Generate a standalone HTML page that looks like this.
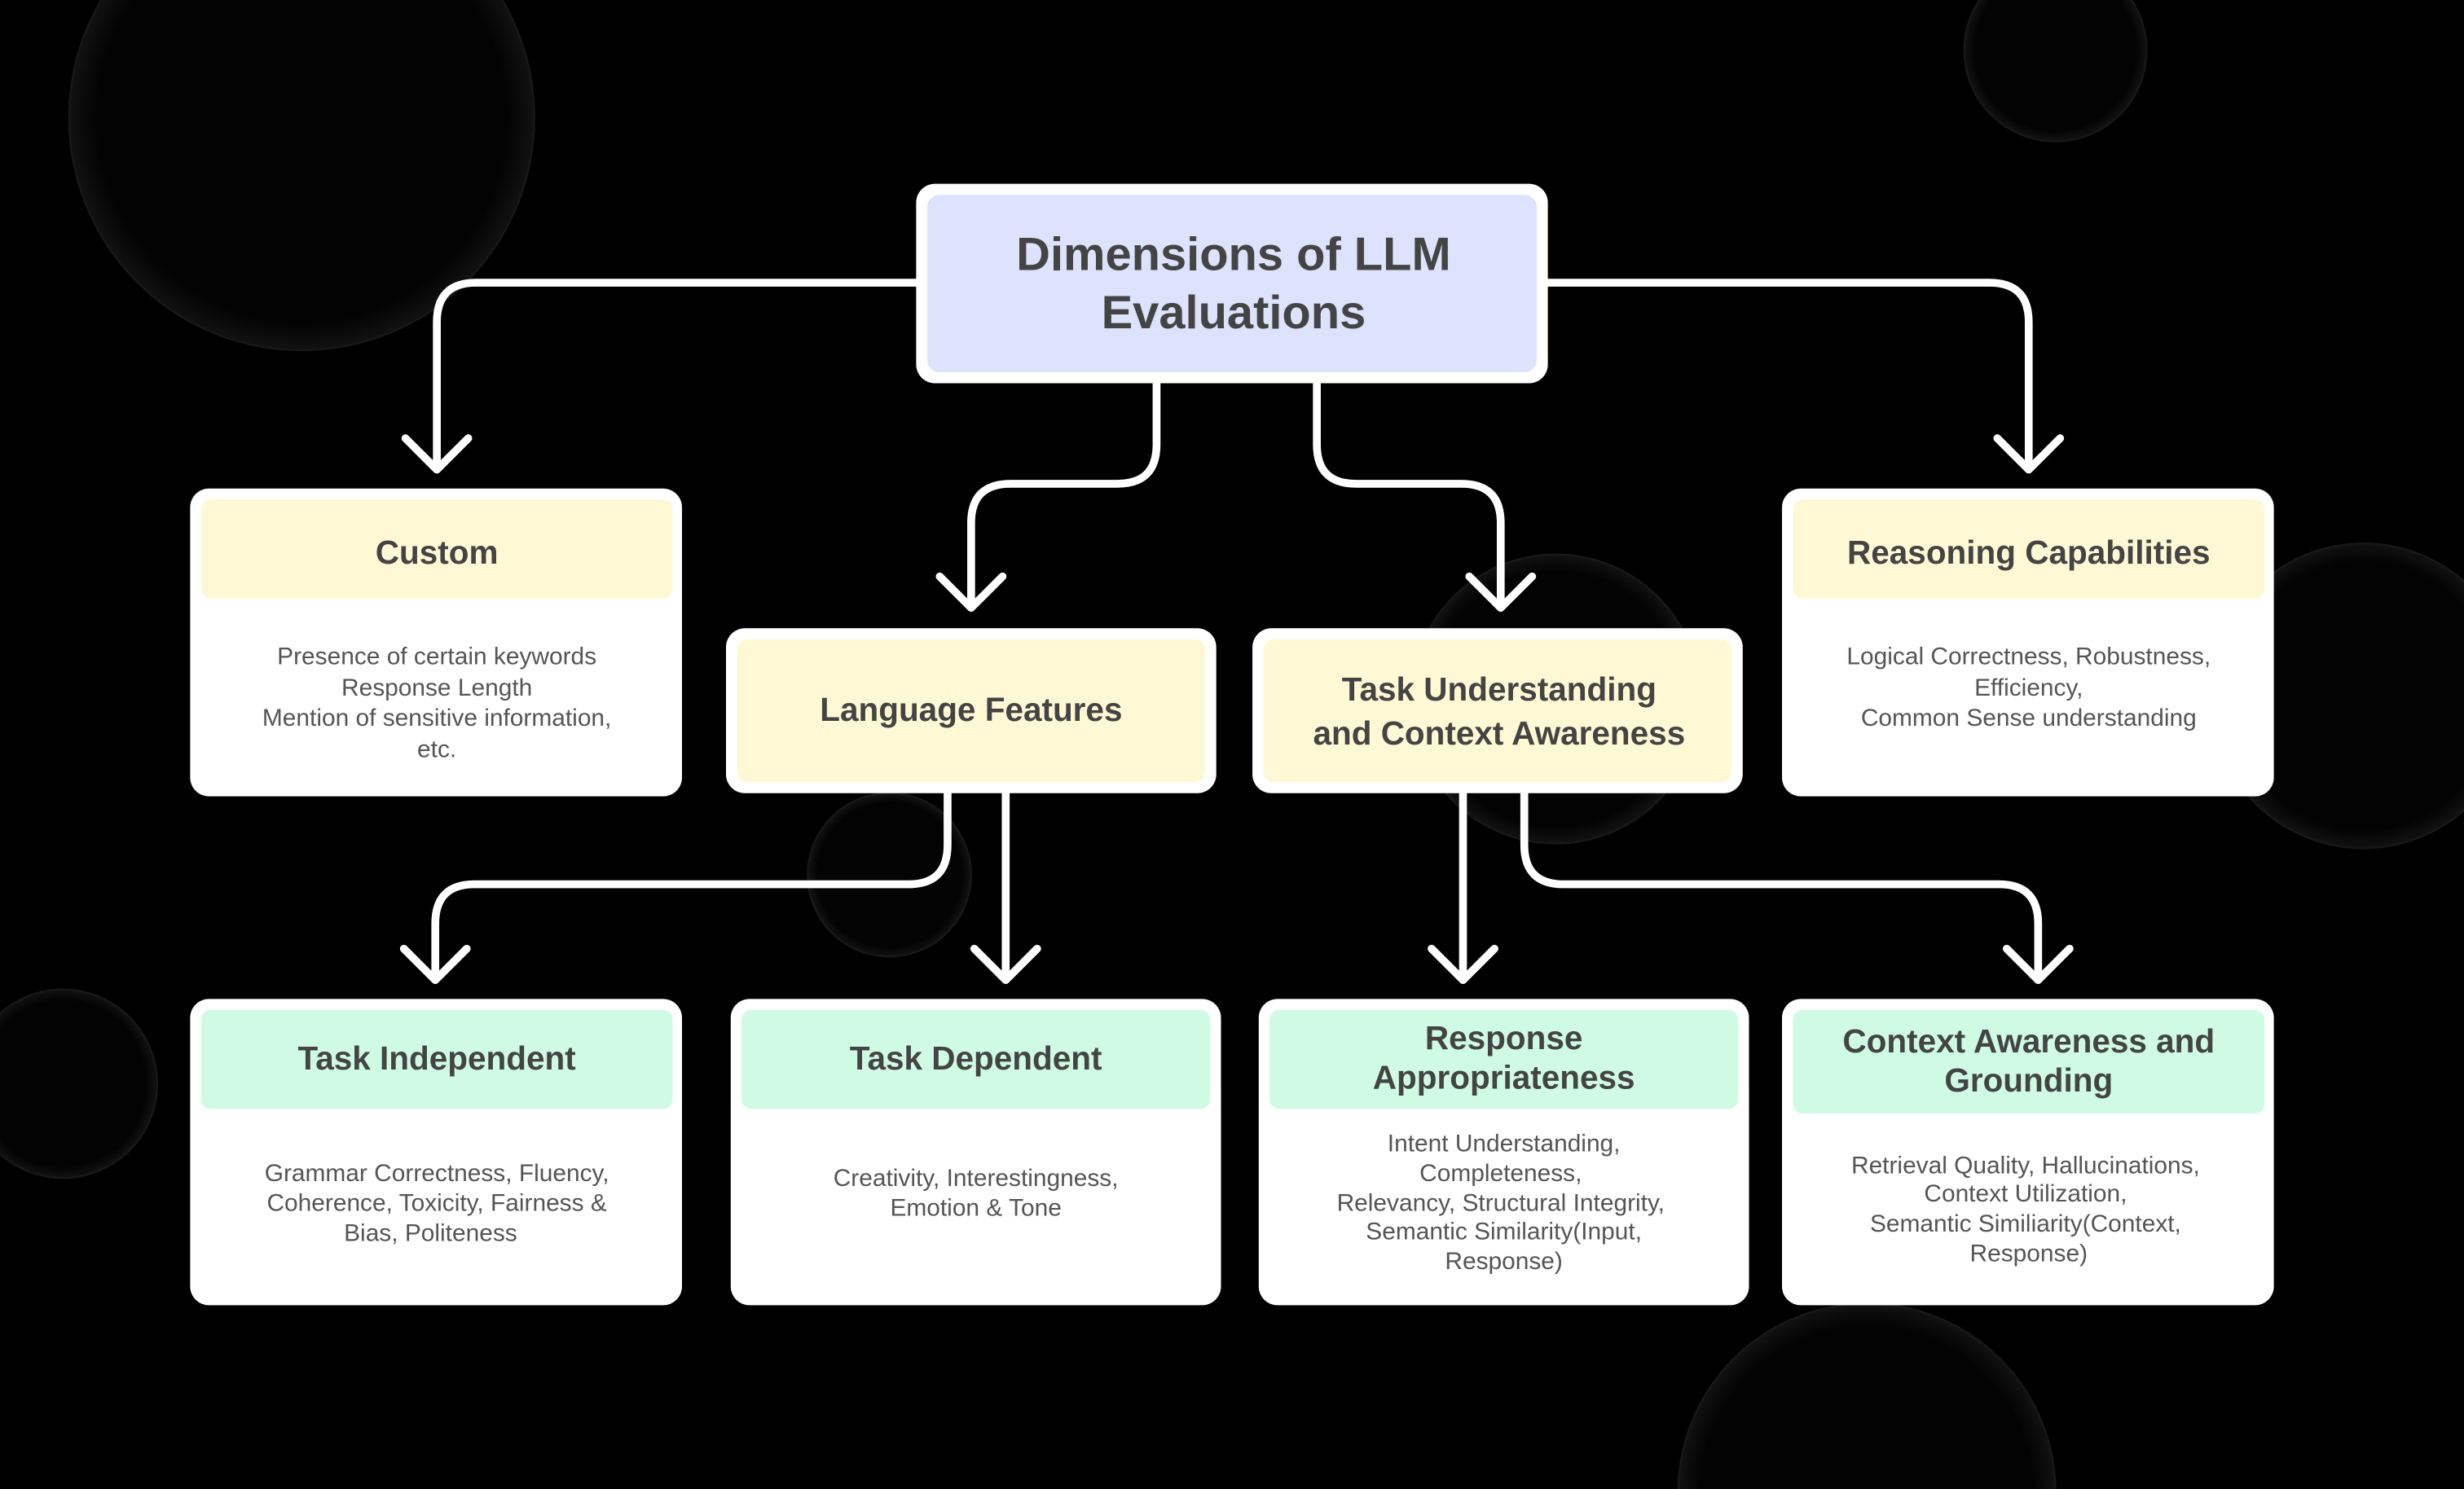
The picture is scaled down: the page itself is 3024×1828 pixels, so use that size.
<!DOCTYPE html>
<html><head><style>html,body{margin:0;padding:0;background:#000;width:3024px;height:1828px;overflow:hidden}svg{display:block}</style></head>
<body>
<svg width="3024" height="1828" viewBox="0 0 1568 948" preserveAspectRatio="none" xmlns="http://www.w3.org/2000/svg" font-family="Liberation Sans, sans-serif">
<defs>
<radialGradient id="g" cx="50%" cy="50%" r="50%"><stop offset="88%" stop-color="#030303"/><stop offset="100%" stop-color="#121212"/></radialGradient>
</defs>
<rect width="1568" height="948" fill="#000"/>
<g fill="url(#g)" stroke="#181818" stroke-width="1.2">
<circle cx="192" cy="75" r="148"/>
<circle cx="1308" cy="32" r="58"/>
<circle cx="1504" cy="443" r="97"/>
<circle cx="40" cy="690" r="60"/>
<circle cx="566" cy="557" r="52"/>
<circle cx="990" cy="445" r="92"/>
<circle cx="1188" cy="950" r="120"/>
</g>
<g fill="none" stroke="#fff" stroke-width="5" stroke-linecap="round" stroke-linejoin="round">
<path d="M583 180 H303 Q278 180 278 205 V298"/>
<path d="M985 180 H1266 Q1291 180 1291 205 V298"/>
<path d="M736 244 V283 Q736 308 711 308 H643 Q618 308 618 333 V387"/>
<path d="M838 244 V283 Q838 308 863 308 H930 Q955 308 955 333 V387"/>
<path d="M603 505 V538 Q603 563 578 563 H302 Q277 563 277 588 V624"/>
<path d="M640 505 V624"/>
<path d="M931 505 V624"/>
<path d="M970 505 V538 Q970 563 995 563 H1272 Q1297 563 1297 588 V624"/>
<path d="M258 279 L278 299 L298 279"/>
<path d="M1271 279 L1291 299 L1311 279"/>
<path d="M598 367 L618 387 L638 367"/>
<path d="M935 367 L955 387 L975 367"/>
<path d="M257 604 L277 624 L297 604"/>
<path d="M620 604 L640 624 L660 604"/>
<path d="M911 604 L931 624 L951 604"/>
<path d="M1277 604 L1297 624 L1317 604"/>
</g>
<rect x="583" y="117" width="402" height="127" rx="12" fill="#fff"/>
<rect x="590" y="124" width="388" height="113" rx="8" fill="#dde2fd"/>
<g fill="#444" font-weight="bold" text-anchor="middle">
<text x="785" y="172" font-size="30">Dimensions of LLM</text>
<text x="785" y="209" font-size="30">Evaluations</text>
</g>
<rect x="121" y="311" width="313" height="196" rx="12" fill="#fff"/>
<rect x="128" y="318" width="300" height="63" rx="6" fill="#fef9d4"/>
<rect x="1134" y="311" width="313" height="196" rx="12" fill="#fff"/>
<rect x="1141" y="318" width="300" height="63" rx="6" fill="#fef9d4"/>
<rect x="462" y="400" width="312" height="105" rx="12" fill="#fff"/>
<rect x="469" y="407" width="298" height="91" rx="7" fill="#fef9d4"/>
<rect x="797" y="400" width="312" height="105" rx="12" fill="#fff"/>
<rect x="804" y="407" width="298" height="91" rx="7" fill="#fef9d4"/>
<rect x="121" y="636" width="313" height="195" rx="12" fill="#fff"/>
<rect x="128" y="643" width="300" height="63" rx="6" fill="#cffbe4"/>
<rect x="465" y="636" width="312" height="195" rx="12" fill="#fff"/>
<rect x="472" y="643" width="298" height="63" rx="6" fill="#cffbe4"/>
<rect x="801" y="636" width="312" height="195" rx="12" fill="#fff"/>
<rect x="808" y="643" width="298" height="63" rx="6" fill="#cffbe4"/>
<rect x="1134" y="636" width="313" height="195" rx="12" fill="#fff"/>
<rect x="1141" y="643" width="300" height="66" rx="6" fill="#cffbe4"/>
<g fill="#444" font-weight="bold" text-anchor="middle" font-size="21">
<text x="278" y="359">Custom</text>
<text x="1291" y="359">Reasoning Capabilities</text>
<text x="618" y="459">Language Features</text>
<text x="954" y="446">Task Understanding</text>
<text x="954" y="474">and Context Awareness</text>
<text x="278" y="681">Task Independent</text>
<text x="621" y="681">Task Dependent</text>
<text x="957" y="668">Response</text>
<text x="957" y="693">Appropriateness</text>
<text x="1291" y="670">Context Awareness and</text>
<text x="1291" y="695">Grounding</text>
</g>
<g fill="#555" text-anchor="middle" font-size="15.5">
<text x="278" y="423">Presence of certain keywords</text>
<text x="278" y="443">Response Length</text>
<text x="278" y="462">Mention of sensitive information,</text>
<text x="278" y="482">etc.</text>
<text x="1291" y="423">Logical Correctness, Robustness,</text>
<text x="1291" y="443">Efficiency,</text>
<text x="1291" y="462">Common Sense understanding</text>
<text x="278" y="752">Grammar Correctness, Fluency,</text>
<text x="278" y="771">Coherence, Toxicity, Fairness &amp;</text>
<text x="274" y="790">Bias, Politeness</text>
<text x="621" y="755">Creativity, Interestingness,</text>
<text x="621" y="774">Emotion &amp; Tone</text>
<text x="957" y="733">Intent Understanding,</text>
<text x="955" y="752">Completeness,</text>
<text x="955" y="771">Relevancy, Structural Integrity,</text>
<text x="957" y="789">Semantic Similarity(Input,</text>
<text x="957" y="808">Response)</text>
<text x="1289" y="747">Retrieval Quality, Hallucinations,</text>
<text x="1289" y="765">Context Utilization,</text>
<text x="1289" y="784">Semantic Similiarity(Context,</text>
<text x="1291" y="803">Response)</text>
</g>
</svg>
</body></html>
